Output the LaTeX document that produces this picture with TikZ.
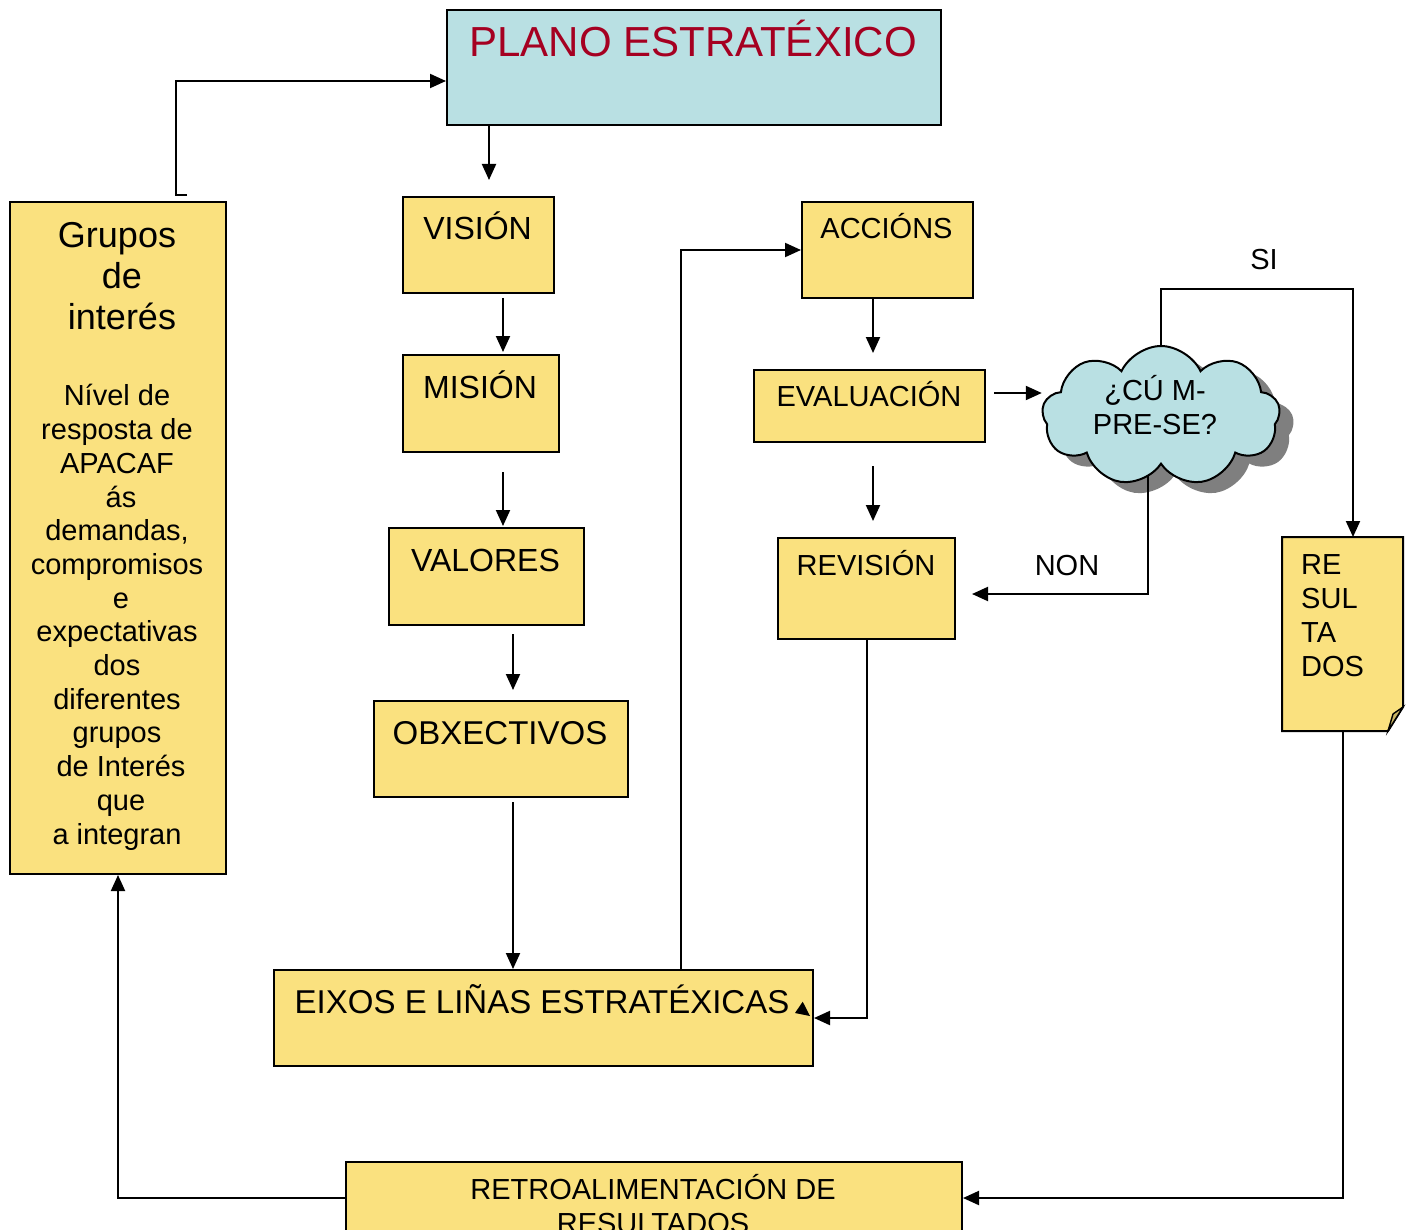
\documentclass[tikz,border=0pt]{standalone}
\usepackage{fontspec}
\setmainfont{Liberation Sans}
\usetikzlibrary{arrows.meta,shapes.symbols}
\definecolor{boxyellow}{HTML}{FAE17F}
\definecolor{planoblue}{HTML}{B9E0E3}
\definecolor{planored}{HTML}{A50021}
\definecolor{foldcol}{HTML}{C9B464}
\definecolor{shadowgray}{HTML}{7F7F7F}
\pgfdeclarelayer{bg}
\pgfsetlayers{bg,main}
\begin{document}
\begin{tikzpicture}[x=1pt,y=-1pt,
  box/.style={draw=black, line width=2pt, fill=boxyellow, rectangle, anchor=north west, inner sep=0pt},
  arr/.style={line width=2pt, -{Triangle[length=16pt,width=14pt]}},
  txt/.style={inner sep=0pt, anchor=base},
  f42/.style={font=\fontsize{42}{48}\selectfont},
  f33/.style={font=\fontsize{33}{38}\selectfont},
  f32/.style={font=\fontsize{32}{38}\selectfont},
  f36/.style={font=\fontsize{36}{41}\selectfont},
  f29/.style={font=\fontsize{29}{33.7}\selectfont},
  cloudsh/.style={cloud, cloud puffs=9, cloud puff arc=130, aspect=1.72, minimum width=238pt, minimum height=140pt, inner sep=0pt}]
\useasboundingbox (0,0) rectangle (1407,1230);
\clip (0,0) rectangle (1407,1230);

% boxes
\node[box, fill=planoblue, minimum width=494pt, minimum height=115pt] (plano) at (446,9) {};
\node[box, minimum width=151pt, minimum height=96pt] (vision) at (402,196) {};
\node[box, minimum width=156pt, minimum height=97pt] (mision) at (402,354) {};
\node[box, minimum width=195pt, minimum height=97pt] (valores) at (388,527) {};
\node[box, minimum width=254pt, minimum height=96pt] (obx) at (373,700) {};
\node[box, minimum width=539pt, minimum height=96pt] (eixos) at (273,969) {};
\node[box, minimum width=216pt, minimum height=672pt] (grupos) at (9,201) {};
\node[box, minimum width=171pt, minimum height=96pt] (acc) at (801,201) {};
\node[box, minimum width=231pt, minimum height=72pt] (eval) at (753,369) {};
\node[box, minimum width=177pt, minimum height=101pt] (rev) at (777,537) {};
\node[box, draw=none, fill=none, minimum width=119pt, minimum height=192pt] (res) at (1282,537) {};
\node[box, minimum width=616pt, minimum height=72pt] (retro) at (345,1161) {};

% folded note
\draw[line width=2pt, fill=boxyellow] (res.north west) -- (res.north east) -- ([yshift=24pt]res.south east)
  -- ([xshift=-15pt]res.south east) -- (res.south west) -- cycle;
\draw[line width=1.4pt, fill=foldcol] ([xshift=-15pt]res.south east) -- ([xshift=-10pt,yshift=17pt]res.south east)
  -- ([yshift=24pt]res.south east) -- cycle;

% cloud
\node[cloudsh, fill=planoblue, draw=black, line width=2pt] (cloud) at (1161,416) {};
\begin{pgfonlayer}{bg}
\node[cloudsh, fill=shadowgray, draw=none] (cloudshadow) at (1175,427) {};
\draw[arr] (cloud.center -| 1161,0) -- (1161,289) -- (1353,289) -- (res.north -| 1353,0);
\draw[arr, shorten >=16pt] (cloud.center -| 1148,0) |- (rev.east |- 0,594);
\end{pgfonlayer}

% texts
\node[txt, f42, text=planored] (tplano) at (693,57) {PLANO ESTRATÉXICO};
\node[txt, f32] (tvision) at (477.5,240) {VISIÓN};
\node[txt, f32] (tmision) at (480,398) {MISIÓN};
\node[txt, f32] (tvalores) at (485.5,571) {VALORES};
\node[txt, f33] (tobx) at (500,744) {OBXECTIVOS};
\node[txt, f33] (teixos) at (542,1013) {EIXOS E LIÑAS ESTRATÉXICAS};
\node[txt, f29] (tacc) at (886.5,239) {ACCIÓNS};
\node[txt, f29] (teval) at (869,406) {EVALUACIÓN};
\node[txt, f29] (trev) at (866,575) {REVISIÓN};
\node[txt, f29] (tsi) at (1264,270) {SI};
\node[txt, f29] (tnon) at (1067,575) {NON};
\node[txt, f29, align=center] (tcloud) at (1155,434) {¿CÚ M-\\PRE-SE?};
\node[txt, f29, align=left, anchor=base west] (tres) at (1301,676) {RE\\SUL\\TA\\DOS};
\node[txt, f29, align=center] (tretro) at (653,1233) {RETROALIMENTACIÓN DE\\RESULTADOS};
\node[txt, f36, align=center] (tgrupos) at (117,330) {Grupos\\\ de\\\ interés};
\node[txt, f29, align=center] (tnivel) at (117,844) {Nível de\\resposta de\\APACAF\\\ ás\\demandas,\\compromisos\\\ e\\expectativas\\dos\\diferentes\\grupos\\\ de Interés\\\ que\\a integran};

% connectors
\draw[arr, shorten >=16pt] (plano.south -| 489,0) -- (vision.north -| 489,0);
\draw[arr, shorten <=4pt, shorten >=2pt] (vision.south -| 503,0) -- (mision.north -| 503,0);
\draw[arr, shorten <=19pt, shorten >=1pt] (mision.south -| 503,0) -- (valores.north -| 503,0);
\draw[arr, shorten <=8pt, shorten >=10pt] (valores.south -| 513,0) -- (obx.north -| 513,0);
\draw[arr, shorten <=4pt] (obx.south -| 513,0) -- (eixos.north -| 513,0);
\draw[arr] (eixos.north -| 681,0) |- (acc.west);
\draw[arr, shorten >=16pt] (acc.south -| 873,0) -- (eval.north -| 873,0);
\draw[arr, shorten <=8pt] (eval.east |- 0,393) -- (cloud.west |- 0,393);
\draw[arr, shorten <=23pt, shorten >=16pt] (eval.south -| 873,0) -- (rev.north -| 873,0);
\draw[arr] (rev.south) |- (eixos.east);
\draw[arr] (res.south) |- (retro.east);
\draw[arr] (retro.west) -| (grupos.south);
\coordinate (gstub) at (187,195);
\draw[arr] (gstub) -- (176,195) |- (plano.west |- 0,81);
\fill (795,1013) -- (802.7,1001.7) -- (810,1016) -- cycle;
\end{tikzpicture}
\end{document}
